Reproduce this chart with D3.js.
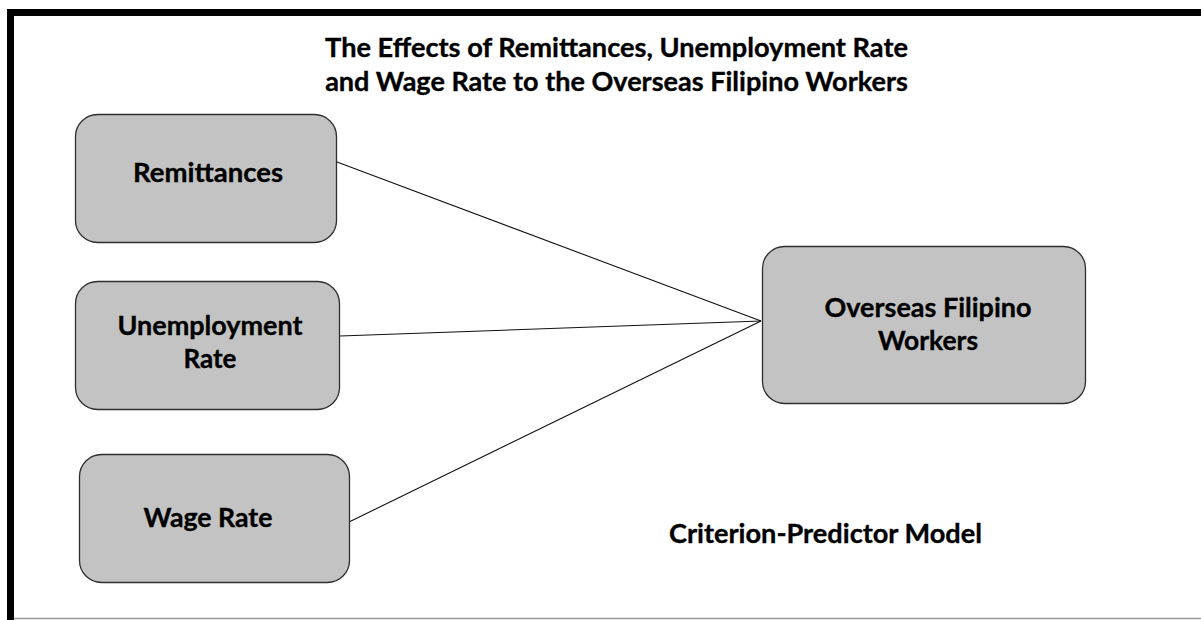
<!DOCTYPE html>
<meta charset="utf-8">
<style>
  body { margin: 0; background: #fff; }
  text { font-family: Lato, "Open Sans", sans-serif; font-weight: 700; fill: #000; stroke: #000; stroke-width: 0.35; }
</style>
<script src="https://d3js.org/d3.v7.min.js"></script>
<svg width="1201" height="620"></svg>
<script>
// diagram content
const titleLines = ['The Effects of Remittances, Unemployment Rate', 'and Wage Rate to the Overseas Filipino Workers'];
const predictors = ['Remittances', 'Unemployment Rate', 'Wage Rate'];
const predictorLabels = [['Remittances'], ['Unemployment', 'Rate'], ['Wage Rate']];
const criterion = 'Overseas Filipino Workers';
const criterionLabel = ['Overseas Filipino', 'Workers'];
const modelName = 'Criterion-Predictor Model';

// layout (kept apart from the content)
const predBoxes = [
  { x: 75, y: 114, w: 261, h: 128, ax: 337, ay: 162, cx: 208, base: [182], tw: [150] },
  { x: 75, y: 281, w: 264, h: 128, ax: 340, ay: 336, cx: 210, base: [335, 368], tw: [185, 53] },
  { x: 79, y: 454, w: 270, h: 128, ax: 349, ay: 522, cx: 208, base: [527], tw: [129] }
];
const critBox = { x: 762, y: 246, w: 323, h: 157, ax: 761, ay: 321, cx: 928, base: [317, 350], tw: [207, 100] };

const svg = d3.select('svg');

// pick font size so text spans the wanted width
function fitText(sel, str, width) {
  const t = sel.append('text').attr('font-size', 20).text(str);
  const w = t.node().getComputedTextLength();
  t.attr('font-size', (20 * width / w).toFixed(2));
  return t;
}

// frame
svg.append('rect')
  .attr('x', 10.5).attr('y', 12.5)
  .attr('width', 1220).attr('height', 640)
  .attr('fill', 'none').attr('stroke', '#000').attr('stroke-width', 7);
svg.append('line')
  .attr('x1', 14).attr('x2', 1201).attr('y1', 618.5).attr('y2', 618.5)
  .attr('stroke', '#9a9a9a').attr('stroke-width', 1.5);

// title
const titleG = svg.append('g');
titleLines.forEach((s, i) => {
  fitText(titleG, s, 583)
    .attr('x', 616.5).attr('y', [57, 91][i])
    .attr('text-anchor', 'middle');
});

// connectors
const link = d3.line();
svg.append('g').selectAll('path')
  .data(predictors)
  .join('path')
  .attr('d', (d, i) => link([[predBoxes[i].ax, predBoxes[i].ay], [critBox.ax, critBox.ay]]))
  .attr('fill', 'none')
  .attr('stroke', '#111')
  .attr('stroke-width', 1.1);

// boxes
function drawBox(g, b, lines) {
  g.append('rect')
    .attr('x', b.x + 0.5).attr('y', b.y + 0.5)
    .attr('width', b.w).attr('height', b.h)
    .attr('rx', 22).attr('ry', 22)
    .attr('fill', '#c3c3c3')
    .attr('stroke', '#2e2e2e').attr('stroke-width', 1.3);
  lines.forEach((s, i) => {
    fitText(g, s, b.tw[i])
      .attr('x', b.cx).attr('y', b.base[i])
      .attr('text-anchor', 'middle');
  });
}

const nodes = svg.append('g');
predictors.forEach((p, i) => {
  drawBox(nodes.append('g').attr('class', 'predictor').attr('data-name', p), predBoxes[i], predictorLabels[i]);
});
drawBox(nodes.append('g').attr('class', 'criterion').attr('data-name', criterion), critBox, criterionLabel);

// caption
fitText(svg, modelName, 313)
  .attr('x', 825.5).attr('y', 543)
  .attr('text-anchor', 'middle');
</script>
